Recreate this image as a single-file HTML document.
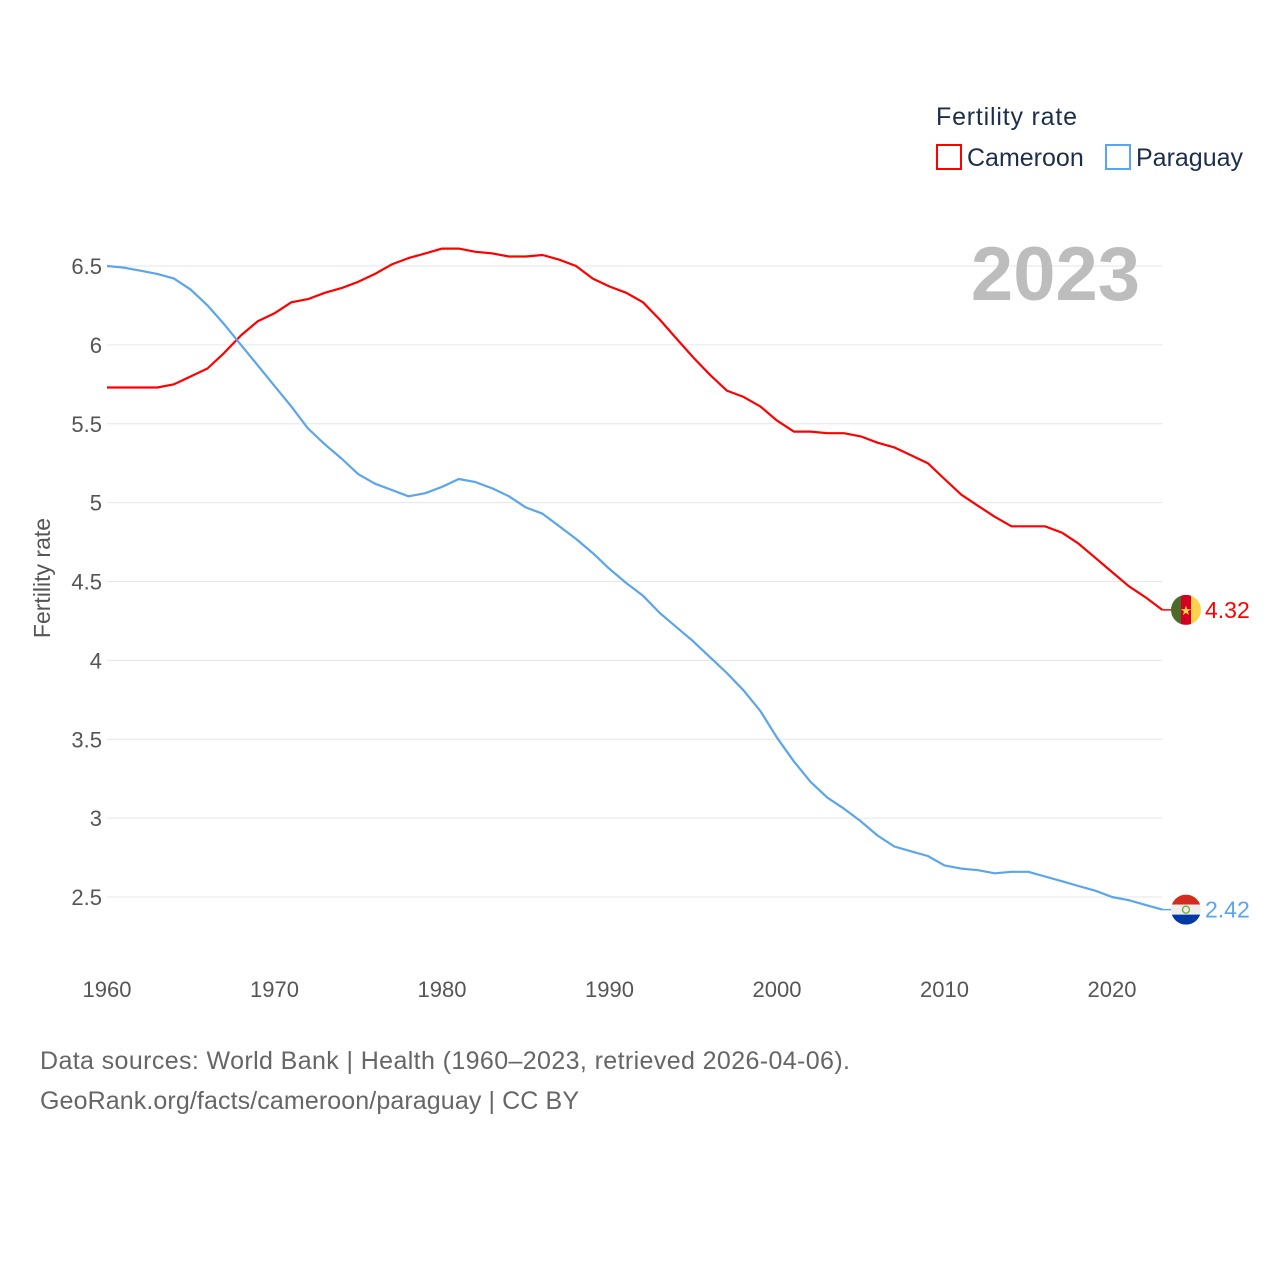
<!DOCTYPE html>
<html><head><meta charset="utf-8"><style>
body{margin:0;background:#fff;}
svg{display:block;font-family:"Liberation Sans",sans-serif;}
</style></head><body>
<svg id="c" width="1280" height="1280" viewBox="0 0 1280 1280">
<g id="grid"></g>
<g id="ylabels"></g>
<g id="xlabels"></g>
<text x="50" y="578" transform="rotate(-90 50 578)" text-anchor="middle" font-size="23" fill="#555">Fertility rate</text>
<text x="1140" y="300" text-anchor="end" font-size="76" font-weight="bold" fill="#bdbdbd">2023</text>
<g>
<text x="936" y="125" font-size="25" fill="#1c2e4a" textLength="141">Fertility rate</text>
<g><rect x="937" y="145" width="24" height="24" fill="none" stroke="#ff0000" stroke-width="2"/><text x="967" y="166" font-size="25" fill="#1c2e4a">Cameroon</text></g>
<g><rect x="1106" y="145" width="24" height="24" fill="none" stroke="#5aa5ec" stroke-width="2"/><text x="1136" y="166" font-size="25" fill="#1c2e4a">Paraguay</text></g>
</g>
<g id="series"></g>
<text x="40" y="1069" font-size="25" fill="#666" textLength="810">Data sources: World Bank | Health (1960–2023, retrieved 2026-04-06).</text>
<text x="40" y="1109" font-size="25" fill="#666" textLength="539">GeoRank.org/facts/cameroon/paraguay | CC BY</text>
</svg>
<script>
const years=[];for(let y=1960;y<=2023;y++)years.push(y);
const cameroon=[5.73,5.73,5.73,5.73,5.75,5.80,5.85,5.95,6.06,6.15,6.20,6.27,6.29,6.33,6.36,6.40,6.45,6.51,6.55,6.58,6.61,6.61,6.59,6.58,6.56,6.56,6.57,6.54,6.50,6.42,6.37,6.33,6.27,6.16,6.04,5.92,5.81,5.71,5.67,5.61,5.52,5.45,5.45,5.44,5.44,5.42,5.38,5.35,5.30,5.25,5.15,5.05,4.98,4.91,4.85,4.85,4.85,4.81,4.74,4.65,4.56,4.47,4.40,4.32];
const paraguay=[6.50,6.49,6.47,6.45,6.42,6.35,6.25,6.13,6.00,5.87,5.74,5.61,5.47,5.37,5.28,5.18,5.12,5.08,5.04,5.06,5.10,5.15,5.13,5.09,5.04,4.97,4.93,4.85,4.77,4.68,4.58,4.49,4.41,4.30,4.21,4.12,4.02,3.92,3.81,3.68,3.51,3.36,3.23,3.13,3.06,2.98,2.89,2.82,2.79,2.76,2.70,2.68,2.67,2.65,2.66,2.66,2.63,2.60,2.57,2.54,2.50,2.48,2.45,2.42];
const yTicks=[2.5,3,3.5,4,4.5,5,5.5,6,6.5];
const yTickLabels=["2.5","3","3.5","4","4.5","5","5.5","6","6.5"];
const xTicks=[1960,1970,1980,1990,2000,2010,2020];
const NS="http://www.w3.org/2000/svg";
const X=y=>107+(y-1960)*(1005/60);
const Y=v=>266+(6.5-v)*157.75;
function mk(tag,attrs,parent){const e=document.createElementNS(NS,tag);for(const k in attrs)e.setAttribute(k,attrs[k]);parent.appendChild(e);return e;}
const grid=document.getElementById('grid'),yl=document.getElementById('ylabels'),xl=document.getElementById('xlabels'),ser=document.getElementById('series');
yTicks.forEach((t,i)=>{
 const l=mk('line',{x1:107,x2:1162,y1:Y(t),y2:Y(t),stroke:'#e6e6e6','stroke-width':1},grid);
 
 
 const tx=mk('text',{x:102,y:Y(t)+8,'text-anchor':'end','font-size':22,fill:'#555'},yl);
 tx.textContent=yTickLabels[i];
 
 
});
xTicks.forEach(t=>{
 const tx=mk('text',{x:X(t),y:997,'text-anchor':'middle','font-size':22,fill:'#555'},xl);
 tx.textContent=t;
 
 
});
function line(data,color,name){
 const d=data.map((v,i)=>(i?'L':'M')+X(years[i]).toFixed(1)+','+Y(v).toFixed(1)).join(' ');
 const p=mk('path',{d:d,fill:'none',stroke:color,'stroke-width':2.2,'stroke-linejoin':'round'},ser);
 
 
 const lv=data[data.length-1],ly=Y(lv),lx=X(years[years.length-1]);
 mk('line',{x1:lx,x2:1172,y1:ly,y2:ly,stroke:color,'stroke-width':1.5},ser);
 const lab=mk('text',{x:1205,y:ly+8,'font-size':23,fill:color},ser);
 lab.textContent=lv.toFixed(2);
 
 
 return ly;
}
const cy=line(cameroon,'#ff0000','cameroon');
const py=line(paraguay,'#5aa5ec','paraguay');
const defs=mk('defs',{},ser);
const cp1=mk('clipPath',{id:'cc'},defs);mk('circle',{cx:1186,cy:cy,r:15},cp1);
const cp2=mk('clipPath',{id:'pc'},defs);mk('circle',{cx:1186,cy:py,r:15},cp2);
const g1=mk('g',{'clip-path':'url(#cc)'},ser);


mk('rect',{x:1171,y:cy-15,width:10,height:30,fill:'#4a6b2a'},g1);
mk('rect',{x:1181,y:cy-15,width:10,height:30,fill:'#d5001f'},g1);
mk('rect',{x:1191,y:cy-15,width:10,height:30,fill:'#fcd34d'},g1);
const st=mk('text',{x:1186,y:cy+5,'text-anchor':'middle','font-size':13,fill:'#fcd34d'},g1);st.textContent='★';
const fp=mk('g',{'clip-path':'url(#pc)'},ser);


mk('rect',{x:1171,y:py-15,width:30,height:10,fill:'#d52b1e'},fp);
mk('rect',{x:1171,y:py-5,width:30,height:10,fill:'#eeeeee'},fp);
mk('rect',{x:1171,y:py+5,width:30,height:10,fill:'#0038a8'},fp);
mk('circle',{cx:1186,cy:py,r:3.5,fill:'none',stroke:'#7cae4a','stroke-width':1.5},fp);
</script>
</body></html>
